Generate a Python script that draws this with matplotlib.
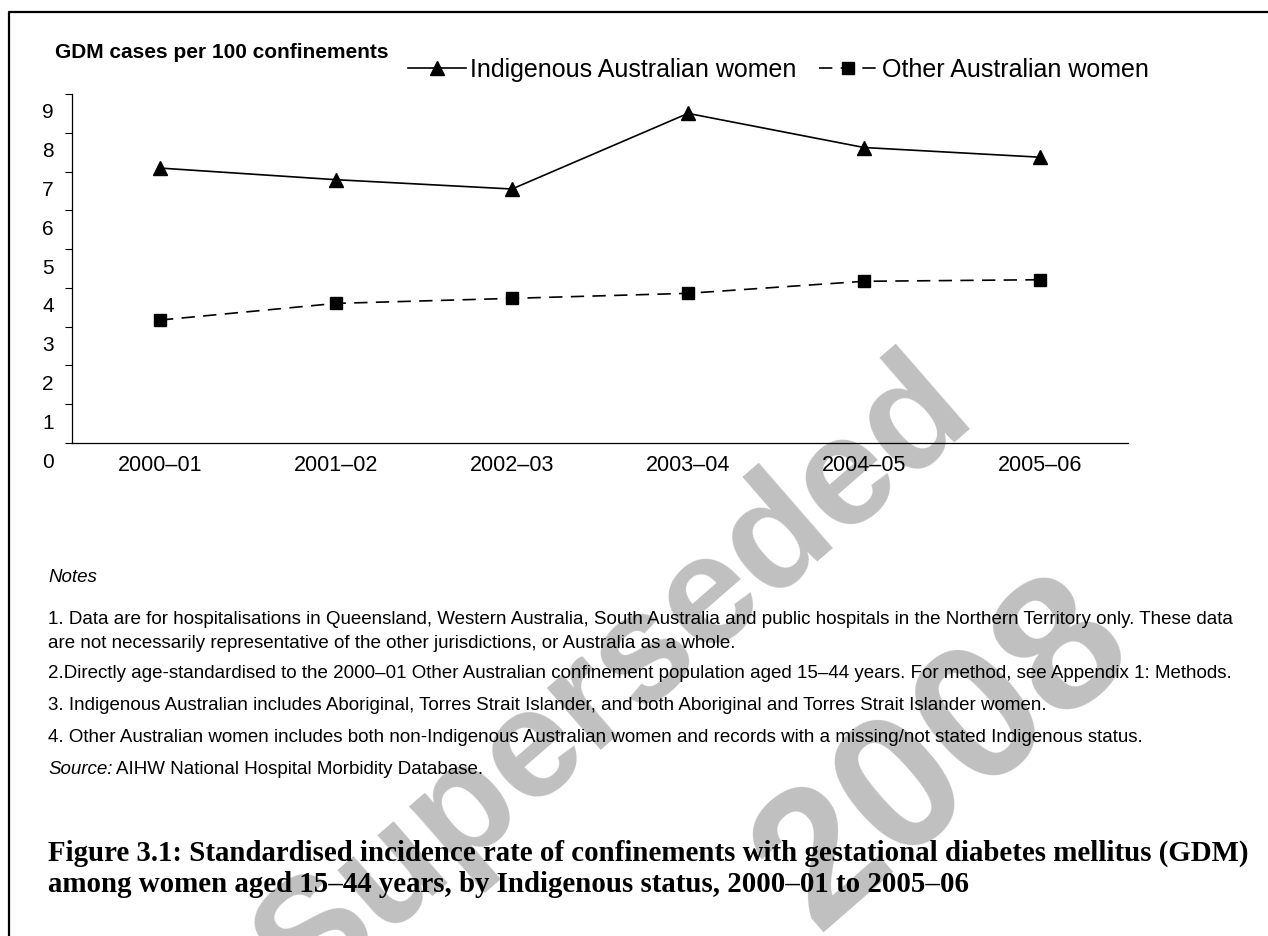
import matplotlib.pyplot as plt
from matplotlib.lines import Line2D
from matplotlib.transforms import ScaledTranslation

years = ["2000–01", "2001–02", "2002–03", "2003–04", "2004–05", "2005–06"]
indigenous = [7.09, 6.79, 6.55, 8.50, 7.62, 7.37]
other = [3.17, 3.60, 3.73, 3.86, 4.17, 4.21]
y_ticks = [0, 1, 2, 3, 4, 5, 6, 7, 8, 9]

notes = [
    "1. Data are for hospitalisations in Queensland, Western Australia, South Australia and public hospitals in the Northern Territory only. These data",
    "are not necessarily representative of the other jurisdictions, or Australia as a whole.",
    "2.Directly age-standardised to the 2000–01 Other Australian confinement population aged 15–44 years. For method, see Appendix 1: Methods.",
    "3. Indigenous Australian includes Aboriginal, Torres Strait Islander, and both Aboriginal and Torres Strait Islander women.",
    "4. Other Australian women includes both non-Indigenous Australian women and records with a missing/not stated Indigenous status.",
]
note_y = [620, 643, 674, 706, 738]
caption = ["Figure 3.1: Standardised incidence rate of confinements with gestational diabetes mellitus (GDM)",
           "among women aged 15–44 years, by Indigenous status, 2000–01 to 2005–06"]

plt.rcParams['font.family'] = ['Liberation Sans', 'DejaVu Sans']

W, H = 1268, 936
fig = plt.figure(figsize=(W / 100, H / 100), dpi=100)


def fx(px):
    return px / W


def fy(py):
    return 1 - py / H


# watermark, behind everything
fig.text(fx(615), fy(680), "Superseded", fontsize=112, fontweight='bold', color='#c0c0c0',
         rotation=41, rotation_mode='anchor', ha='center', va='center', zorder=0.5)
fig.text(fx(945), fy(755), "2008", fontsize=138, fontweight='bold', color='#c0c0c0',
         rotation=41, rotation_mode='anchor', ha='center', va='center', zorder=0.5)

ax = fig.add_axes([fx(72), fy(443), fx(1128) - fx(72), fy(94) - fy(443)], zorder=1)
ax.patch.set_alpha(0)
x = list(range(len(years)))
ax.plot(x, indigenous, color='black', lw=1.2, marker='^', ms=10,
        label="Indigenous Australian women")
ax.plot(x, other, color='black', lw=1.2, ls=(0, (8, 5)), marker='s', ms=8.5,
        label="Other Australian women")

ax.set_xlim(-0.5, 5.5)
ax.set_ylim(0, 9)
ax.set_xticks(x)
ax.set_xticklabels(years)
ax.set_yticks(y_ticks)
ax.set_yticklabels([str(v) for v in y_ticks])
ax.tick_params(axis='x', length=0, pad=8.5, labelsize=15.5)
ax.tick_params(axis='y', length=5, width=0.8, pad=8, labelsize=15)
for s in ['top', 'right']:
    ax.spines[s].set_visible(False)
for s in ['left', 'bottom']:
    ax.spines[s].set_linewidth(0.9)

# y labels sit half a step below their ticks in the original
off = ScaledTranslation(0, -0.17, fig.dpi_scale_trans)
for lab in ax.get_yticklabels():
    lab.set_transform(lab.get_transform() + off)

fig.text(fx(55), fy(52), "GDM cases per 100 confinements", fontsize=15, fontweight='bold',
         ha='left', va='center')

fig.legend(loc='center left', bbox_to_anchor=(fx(408), fy(70)), ncol=2, frameon=False,
           fontsize=18, handlelength=2.3, handletextpad=0.2, columnspacing=0.9,
           borderpad=0, borderaxespad=0)

# frame lines (top and left only)
fig.add_artist(Line2D([fx(9), fx(9), 1], [0, fy(12), fy(12)], color='black', lw=1.6))

# notes
fs = 13.5
fig.text(fx(48), fy(578), "Notes", fontsize=fs, style='italic', va='center')
for t, yy in zip(notes, note_y):
    fig.text(fx(48), fy(yy), t, fontsize=fs, va='center')
src = fig.text(fx(48), fy(769), "Source:", fontsize=fs, style='italic', va='center')
r = fig.canvas.get_renderer()
bb = src.get_window_extent(r)
fig.text((bb.x1 + 4) / W, fy(769), "AIHW National Hospital Morbidity Database.", fontsize=fs,
         va='center')

for t, yy in zip(caption, [853, 884]):
    fig.text(fx(48), fy(yy), t, fontsize=20.8, fontweight='bold', va='center',
             family=['Liberation Serif', 'DejaVu Serif'])

fig.savefig("out.png", dpi=100)
